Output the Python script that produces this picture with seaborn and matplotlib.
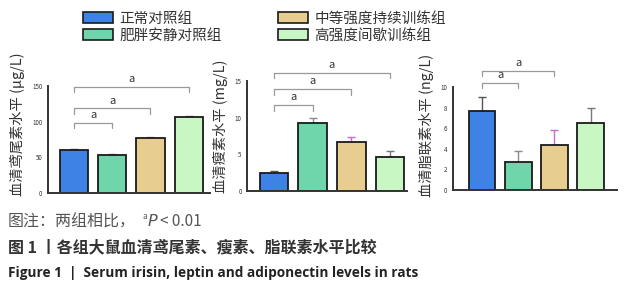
import numpy as np
import pandas as pd
import matplotlib
matplotlib.use("Agg")
import matplotlib.pyplot as plt
from matplotlib.patches import Patch
import seaborn as sns

sns.set_style("white")
plt.rcParams['font.family'] = ['Noto Sans CJK SC', 'DejaVu Sans']

# 数据
groups = ["正常对照组", "肥胖安静对照组", "中等强度持续训练组", "高强度间歇训练组"]
colors = ["#3f82e6", "#6fd6ac", "#e8cd90", "#c9f7c4"]
err_colors = ["#555555", "#8a8a8a", "#cc66cc", "#777777"]

irisin = [60, 53, 77, 106]
irisin_err = [2, 1, 2, 2]
leptin = [2.5, 9.3, 6.7, 4.7]
leptin_err = [0.2, 0.6, 0.7, 0.7]
adipo = [7.7, 2.7, 4.4, 6.5]
adipo_err = [1.3, 1.1, 1.4, 1.5]

ylabels = ["血清鸢尾素水平 (μg/L)", "血清瘦素水平 (mg/L)", "血清脂联素水平 (ng/L)"]
yticks = [[0, 50, 100, 150], [0, 5, 10, 15], [0, 2, 4, 6, 8, 10]]
ylims = [150, 15, 10]
xlims = [(-0.68, 3.55), (-0.69, 3.44), (-0.8, 3.72)]
label_y = [0.64, 0.59, 0.63]
# 显著性标记: (组1, 组2, 高度)
sig = [[(0, 1, 98), (0, 2, 119), (0, 3, 149)],
       [(0, 1, 11.7), (0, 2, 13.9), (0, 3, 16.1)],
       [(0, 1, 10.4), (0, 2, 11.6)]]

fig = plt.figure(figsize=(6.34, 3.0), dpi=100)
boxes = [[0.0757, 0.357, 0.255, 0.356],
         [0.390, 0.363, 0.252, 0.367],
         [0.7145, 0.367, 0.258, 0.343]]

datasets = [(irisin, irisin_err), (leptin, leptin_err), (adipo, adipo_err)]
for i, (vals, errs) in enumerate(datasets):
    ax = fig.add_axes(boxes[i])
    df = pd.DataFrame({"group": groups, "value": vals})
    sns.barplot(data=df, x="group", y="value", hue="group", palette=colors,
                saturation=1, legend=False, edgecolor="#1a1a1a", linewidth=1.3,
                width=0.74, ax=ax, zorder=2)
    for j in range(4):
        ax.errorbar(j, vals[j], yerr=[[0], [errs[j]]], color=err_colors[j],
                    capsize=3, elinewidth=1, capthick=1, zorder=1)
    ax.set_xlim(*xlims[i])
    ax.set_ylim(0, ylims[i])
    ax.set_yticks(yticks[i])
    ax.set_yticklabels([str(t) for t in yticks[i]], fontsize=4.5, color="#333333")
    ax.set_xticks(range(4))
    ax.set_xticklabels([])
    ax.tick_params(axis="both", direction="out", length=2.5, width=1,
                   color="#333333", pad=1.5)
    ax.set_xlabel("")
    ax.set_ylabel(ylabels[i], fontsize=10.3, color="#333333", labelpad=5,
                  y=label_y[i])
    for s in ["top", "right"]:
        ax.spines[s].set_visible(False)
    for s in ["left", "bottom"]:
        ax.spines[s].set_color("#333333")
        ax.spines[s].set_linewidth(1.4)
    # 显著性括号
    drop = ylims[i] * 0.05
    for a, b, h in sig[i]:
        ax.plot([a, a, b, b], [h - drop, h, h, h - drop], color="#999999",
                lw=0.9, clip_on=False)
        ax.text((a + b) / 2, h + drop * 0.5, "a", ha="center", va="bottom",
                fontsize=8, color="#333333", clip_on=False)

handles = [Patch(facecolor=c, edgecolor="#1a1a1a", linewidth=1.2) for c in colors]
fig.legend(handles, groups, ncol=2,
           loc="upper left", bbox_to_anchor=(0.111, 1.005), frameon=False,
           fontsize=10.5, handlelength=2.0, handleheight=0.75, handletextpad=0.45,
           columnspacing=3.9, labelspacing=0.2, labelcolor="#333333")

# 图注
fig.text(0.012, 0.26, "图注：两组相比，", fontsize=11.5, color="#555555", va="center")
fig.text(0.224, 0.278, "a", fontsize=6, color="#555555", va="center")
fig.text(0.232, 0.26, "P", fontsize=11.5, color="#555555", va="center", style="italic",
         family="DejaVu Sans")
fig.text(0.252, 0.26, "< 0.01", fontsize=11, color="#555555", va="center")
fig.text(0.012, 0.175, "图 1 丨各组大鼠血清鸢尾素、瘦素、脂联素水平比较", fontsize=11.5,
         color="#333333", va="center", fontweight="bold")
fig.text(0.012, 0.09, "Figure 1  |  Serum irisin, leptin and adiponectin levels in rats",
         fontsize=9.8, color="#222222", va="center", fontweight="bold",
         family="Open Sans")

fig.savefig("out.png", dpi=100)
